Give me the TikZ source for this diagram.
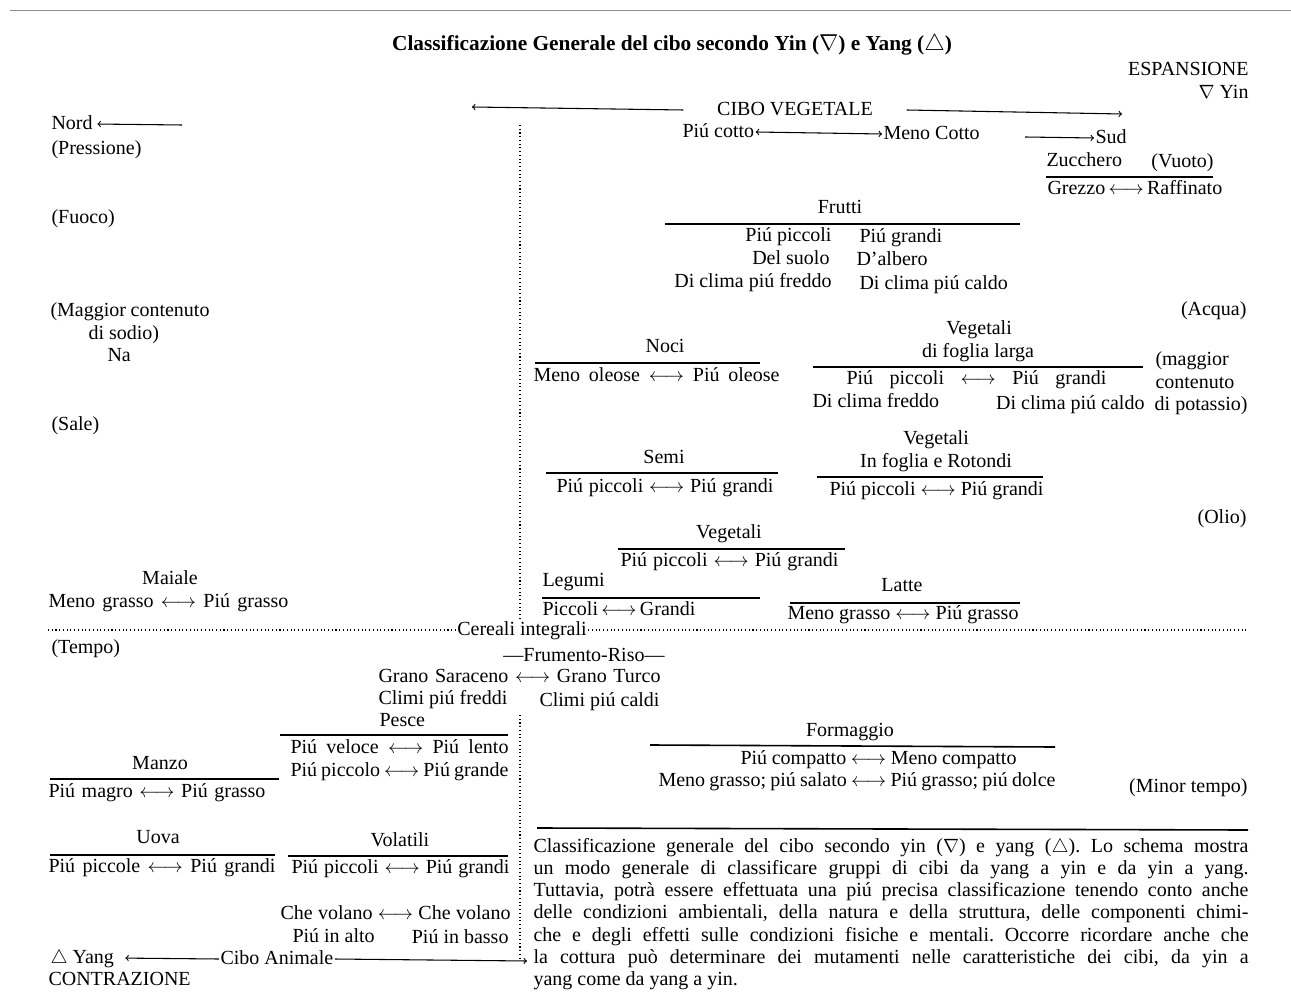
\documentclass[tikz,border=0pt]{standalone}
\usepackage{fontspec}
\setmainfont{Liberation Serif}
\frenchspacing

\newlength{\pxu}
\setlength{\pxu}{0.75pt}
\newcommand{\riga}[2]{\makebox[#1\pxu][s]{#2}}
\newcommand{\freccia}{$\longleftrightarrow$}

\tikzset{every picture/.style={line width=0.75pt}}
\tikzset{
  txt/.style={inner sep=0.75pt, text height=11pt, text depth=3pt, font=\fontsize{15}{17}\selectfont},
  rule/.style={line width=1.2pt},
  punti/.style={dotted, line width=0.8pt},
  arr/.style={->, line width=0.8pt},
  darr/.style={<->, line width=0.8pt},
  didascalia/.style={inner sep=0pt, anchor=north west, align=left, font=\fontsize{15}{16.6}\selectfont},
}

\begin{document}
\begin{tikzpicture}[x=0.75pt,y=0.75pt,yscale=-1,xscale=1]
\fill[white] (0,0) rectangle (1291,994);
\useasboundingbox (0,0) rectangle (1291,994);

%Straight Lines (page edge)
\draw [color=black!45] (10,11) -- (1291,11);

% Text Node
\node[inner sep=0.75pt, font=\bfseries\fontsize{16}{18}\selectfont] (titolo) at (672,45) {Classificazione Generale del cibo secondo Yin ($\nabla$) e Yang ($\triangle$)};
% Text Node
\node[txt, anchor=east] (espansione) at (1250,70) {ESPANSIONE};
% Text Node
\node[txt, anchor=east] (yin) at (1250,93) {$\nabla$ Yin};
% Text Node
\node[txt, inner xsep=25] (cibov) at (795,110) {CIBO VEGETALE};
\coordinate (vsx) at (472,107);
\coordinate (vdx) at (1122,114);
\draw[arr] (cibov.west) -- (vsx);
\draw[arr] (cibov.east) -- (vdx);

% Text Node
\node[txt, anchor=west] (nord) at (50,124) {Nord};
\coordinate (nordst) at (182,125);
\draw[arr, shorten >=2.5pt] (nordst) -- (nord.east);
% Text Node
\node[txt, anchor=west] (pressione) at (50,149) {(Pressione)};
% Text Node
\node[txt, anchor=west] (cotto) at (681,132) {Piú cotto};
% Text Node
\node[txt, anchor=west] (menocotto) at (882,134) {Meno Cotto};
\draw[darr] (cotto.east) -- (menocotto.west);
% Text Node
\node[txt, anchor=west] (sud) at (1094,138) {Sud};
\coordinate (sudst) at (1025,137);
\draw[arr] (sudst) -- (sud.west);
% Text Node
\node[txt, anchor=west] (zucchero) at (1045,161) {Zucchero};
% Text Node
\node[txt, anchor=east] (vuoto) at (1215,162) {(Vuoto)};
%Straight Lines
\draw[rule] (1046,177) -- (1213,177);
% Text Node
\node[txt, anchor=west] (grezzo) at (1046,189) {\riga{166}{Grezzo \freccia{} Raffinato}};

%Dotted Lines
\draw[punti] (520,125) -- (520,618);
\draw[punti] (520,715) -- (520,958);

% Text Node
\node[txt, anchor=west] (fuoco) at (50,218) {(Fuoco)};
% Text Node
\node[txt] (frutti) at (840,208) {Frutti};
%Straight Lines
\draw[rule] (665,224) -- (1020,224);
% Text Node
\node[txt, anchor=east] (fpiccoli) at (833,236) {Piú piccoli};
\node[txt, anchor=west] (fgrandi) at (858,237) {Piú grandi};
\node[txt, anchor=east] (suolo) at (831,259) {Del suolo};
\node[txt, anchor=west] (albero) at (855,260) {D'albero};
\node[txt, anchor=east] (ffreddo) at (833,282) {Di clima piú freddo};
\node[txt, anchor=west] (fcaldo) at (858,284) {Di clima piú caldo};

% Text Node
\node[txt, anchor=east] (acqua) at (1248,310) {(Acqua)};
% Text Node
\node[txt, anchor=west] (sodio1) at (49,311) {\riga{159}{(Maggior contenuto}};
\node[txt, anchor=west] (sodio2) at (87,334) {di sodio)};
\node[txt, anchor=west] (na) at (106,356) {Na};

% Text Node
\node[txt] (vfl1) at (979,329) {Vegetali};
\node[txt] (vfl2) at (978,352) {di foglia larga};
%Straight Lines
\draw[rule] (813,367) -- (1143,367);
% Text Node
\node[txt, anchor=west] (vflpg) at (845,379) {\riga{260}{Piú piccoli \freccia{} Piú grandi}};
\node[txt, anchor=west] (vflfreddo) at (811,402) {Di clima freddo};
\node[txt, anchor=east] (vflcaldo) at (1146,404) {Di clima piú caldo};
% Text Node
\node[txt, anchor=west] (potassio1) at (1154,360) {(maggior};
\node[txt, anchor=west] (potassio2) at (1154,383) {contenuto};
\node[txt, anchor=east] (potassio3) at (1249,405) {di potassio)};

% Text Node
\node[txt] (noci) at (665,347) {Noci};
%Straight Lines
\draw[rule] (535,363) -- (760,363);
% Text Node
\node[txt, anchor=west] (oleose) at (532,376) {\riga{246}{Meno oleose \freccia{} Piú oleose}};

% Text Node
\node[txt, anchor=west] (sale) at (50,425) {(Sale)};

% Text Node
\node[txt] (vfr1) at (936,439) {Vegetali};
\node[txt] (vfr2) at (936,462) {In foglia e Rotondi};
%Straight Lines
\draw[rule] (817,477) -- (1043,477);
% Text Node
\node[txt, anchor=west] (vfrpg) at (828,490) {\riga{214}{Piú piccoli \freccia{} Piú grandi}};

% Text Node
\node[txt] (semi) at (664,458) {Semi};
%Straight Lines
\draw[rule] (546,473) -- (778,473);
% Text Node
\node[txt, anchor=west] (semipg) at (555,487) {\riga{217}{Piú piccoli \freccia{} Piú grandi}};

% Text Node
\node[txt, anchor=east] (olio) at (1248,518) {(Olio)};

% Text Node
\node[txt] (veg) at (729,533) {Vegetali};
%Straight Lines
\draw[rule] (618,549) -- (845,549);
% Text Node
\node[txt, anchor=west] (vegpg) at (619,561) {\riga{218}{Piú piccoli \freccia{} Piú grandi}};

% Text Node
\node[txt, anchor=west] (legumi) at (541,581) {Legumi};
%Straight Lines
\draw[rule] (542,598) -- (760,598);
% Text Node
\node[txt, anchor=west] (legpg) at (541,610) {\riga{149}{Piccoli \freccia{} Grandi}};

% Text Node
\node[txt] (latte) at (902,586) {Latte};
%Straight Lines
\draw[rule] (790,603) -- (1020,603);
% Text Node
\node[txt, anchor=west] (lattepg) at (786,614) {\riga{231}{Meno grasso \freccia{} Piú grasso}};

% Text Node
\node[txt] (maiale) at (170,579) {Maiale};
\node[txt, anchor=west] (maialepg) at (47,602) {\riga{240}{Meno grasso \freccia{} Piú grasso}};

% Text Node
\node[txt] (cereali) at (522,630) {Cereali integrali};
\coordinate (csx) at (48,630);
\coordinate (cdx) at (1248,630);
\draw[punti] (csx) -- (cereali.west);
\draw[punti] (cereali.east) -- (cdx);

% Text Node
\node[txt, anchor=west] (tempo) at (50,648) {(Tempo)};
% Text Node
\node[txt] (frumento) at (584,656) {—Frumento-Riso—};
\node[txt, anchor=west] (grano) at (377,677) {\riga{282}{Grano Saraceno \freccia{} Grano Turco}};
\node[txt, anchor=west] (freddi) at (377,699) {Climi piú freddi};
\node[txt, anchor=east] (caldi) at (661,701) {Climi piú caldi};

% Text Node
\node[txt, anchor=west] (pesce) at (378,721) {Pesce};
%Straight Lines
\draw[rule] (280,735) -- (508,735);
% Text Node
\node[txt, anchor=west] (veloce) at (289,748) {\riga{218}{Piú veloce \freccia{} Piú lento}};
\node[txt, anchor=west] (piccolo) at (289,771) {\riga{218}{Piú piccolo \freccia{} Piú grande}};

% Text Node
\node[txt] (manzo) at (160,764) {Manzo};
%Straight Lines
\draw[rule] (50,779) -- (279,779);
% Text Node
\node[txt, anchor=west] (manzopg) at (47,792) {\riga{217}{Piú magro \freccia{} Piú grasso}};

% Text Node
\node[txt] (formaggio) at (850,731) {Formaggio};
%Straight Lines
\draw[rule] (650,745) -- (1055,747);
% Text Node
\node[txt, anchor=west] (compatto) at (739,759) {\riga{276}{Piú compatto \freccia{} Meno compatto}};
\node[txt, anchor=west] (salato) at (657,781) {\riga{397}{Meno grasso; piú salato \freccia{} Piú grasso; piú dolce}};
% Text Node
\node[txt, anchor=east] (minor) at (1249,787) {(Minor tempo)};

%Straight Lines
\draw[rule] (537,828) -- (1248,830);

% Text Node
\node[txt] (uova) at (158,838) {Uova};
%Straight Lines
\draw[rule] (50,855) -- (275,855);
% Text Node
\node[txt, anchor=west] (uovapg) at (47,867) {\riga{227}{Piú piccole \freccia{} Piú grandi}};

% Text Node
\node[txt] (volatili) at (400,841) {Volatili};
%Straight Lines
\draw[rule] (288,856) -- (508,856);
% Text Node
\node[txt, anchor=west] (volpg) at (290,868) {\riga{218}{Piú piccoli \freccia{} Piú grandi}};
\node[txt, anchor=west] (volano) at (279,914) {\riga{230}{Che volano \freccia{} Che volano}};
\node[txt, anchor=west] (alto) at (291,937) {Piú in alto};
\node[txt, anchor=east] (basso) at (510,938) {Piú in basso};

% Text Node
\node[txt, anchor=west] (yang) at (49,958) {$\triangle$ Yang};
\node[txt, anchor=west] (ciboa) at (219,959) {Cibo Animale};
\coordinate (adx) at (527,961);
\draw[arr, shorten >=7.5pt] (ciboa.west) -- (yang.east);
\draw[arr] (ciboa.east) -- (adx);
% Text Node
\node[txt, anchor=west] (contrazione) at (47,980) {CONTRAZIONE};

% Text Node
\node[didascalia] (nota) at (533,838) {%
\riga{715}{Classificazione generale del cibo secondo yin ($\nabla$) e yang ($\triangle$). Lo schema mostra}\\
\riga{715}{un modo generale di classificare gruppi di cibi da yang a yin e da yin a yang.}\\
\riga{715}{Tuttavia, potrà essere effettuata una piú precisa classificazione tenendo conto anche}\\
\riga{715}{delle condizioni ambientali, della natura e della struttura, delle componenti chimi-}\\
\riga{715}{che e degli effetti sulle condizioni fisiche e mentali. Occorre ricordare anche che}\\
\riga{715}{la cottura può determinare dei mutamenti nelle caratteristiche dei cibi, da yin a}\\
yang come da yang a yin.};

\end{tikzpicture}
\end{document}
